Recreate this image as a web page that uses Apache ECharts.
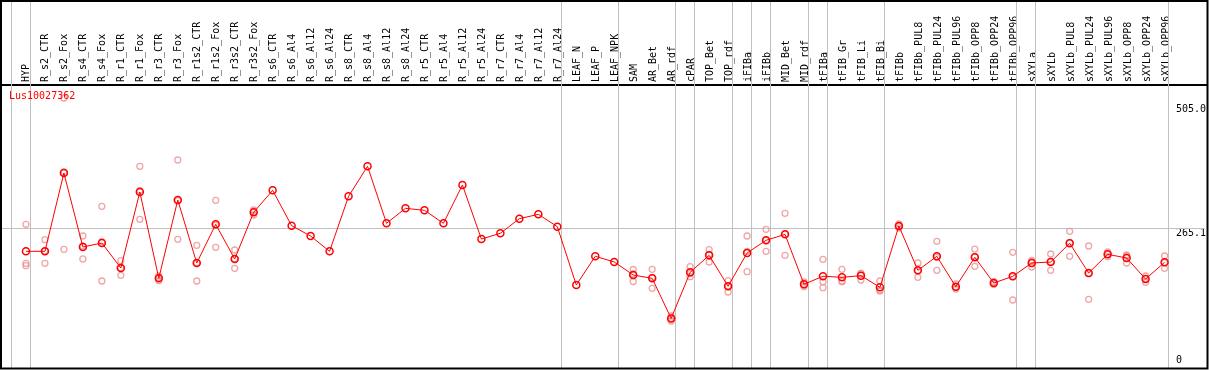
<!DOCTYPE html>
<html><head><meta charset="utf-8">
<script src="https://cdn.jsdelivr.net/npm/echarts@6/dist/echarts.min.js"></script>
<style>html,body{margin:0;padding:0;background:#fff}#c{width:1209px;height:370px}</style>
</head><body><div id="c"></div>
<script>
const categories = ['HYP','R_s2_CTR','R_s2_Fox','R_s4_CTR','R_s4_Fox','R_r1_CTR','R_r1_Fox','R_r3_CTR','R_r3_Fox','R_r1s2_CTR','R_r1s2_Fox','R_r3s2_CTR','R_r3s2_Fox','R_s6_CTR','R_s6_Al4','R_s6_Al12','R_s6_Al24','R_s8_CTR','R_s8_Al4','R_s8_Al12','R_s8_Al24','R_r5_CTR','R_r5_Al4','R_r5_Al12','R_r5_Al24','R_r7_CTR','R_r7_Al4','R_r7_Al12','R_r7_Al24','LEAF_N','LEAF_P','LEAF_NPK','SAM','AR_Bet','AR_rdf','cPAR','TOP_Bet','TOP_rdf','iFIBa','iFIBb','MID_Bet','MID_rdf','tFIBa','tFIB_Gr','tFIB_Li','tFIB_Bi','tFIBb','tFIBb_PUL8','tFIBb_PUL24','tFIBb_PUL96','tFIBb_OPP8','tFIBb_OPP24','tFIBb_OPP96','sXYLa','sXYLb','sXYLb_PUL8','sXYLb_PUL24','sXYLb_PUL96','sXYLb_OPP8','sXYLb_OPP24','sXYLb_OPP96'];

const means = [220.7,220.6,371.7,229,236.7,188.5,335.2,168.7,319.7,198.1,272.8,205.8,295.9,338.4,270.1,250.2,220.7,326.9,384.8,274.8,303.6,299.8,274.8,348.7,244.4,255.5,283.6,292.1,268.3,155.7,211.1,200.1,175,168.5,91.1,180.2,212.9,153.3,217.4,241.9,253.4,157,172.6,170.5,173.7,151.2,269.5,184,211,152.4,209.1,159.5,172.4,198.1,200,236.2,178.8,214.9,207.8,167.2,199.4];

const rep1 = [272.8,243.1,516.6,250.2,307.6,202.6,384.8,173,396.9,232.3,319.1,223.2,300.4,
  null,null,null,null,null,null,null,null,null,null,null,null,null,null,null,null,null,null,null,
  185.6,186,95.8,191,223.8,164,250.2,263.2,294,161.5,205.3,186,178.2,163.4,273.4,198.1,240,157.6,225.1,162,218.8,203.3,215.5,259.3,230.9,219.4,213.6,173,211.6];
const rep2 = [197.5,221.3,373.8,230.9,239.2,188.5,338.3,169.2,318.4,198.7,270.9,206.4,296.6,
  null,null,null,null,null,null,null,null,null,null,null,null,null,null,null,null,null,null,null,
  176.9,170.3,91.4,177.9,214.9,153.7,220.7,241.9,253.3,156.6,162,163.4,177.5,146,269.5,183.3,209.1,151.8,210.3,159.5,171.7,200.6,200.6,238.1,177.5,214.9,211.6,167.8,198.7];
const rep3 = [192.9,197.5,224.6,205.9,163.4,174.4,282.5,164,243.9,163.4,228.4,187.9,290.8,
  null,null,null,null,null,null,null,null,null,null,null,null,null,null,null,null,null,null,null,
  162.4,149.3,86.2,171.7,200.1,142.2,181.3,220.7,213,152.8,150.5,162,165.3,144.1,265.7,170.5,184,147.9,191.8,157,126.7,190.4,184,211.1,128.1,210.3,198.1,160.9,187.9];

// index of the last category of each group (vertical separators drawn after it)
const groupEnds = [-1,0,28,31,34,35,37,38,39,41,42,45,52,53,60];
const yTickValues = [0, 265.1, 505.0];
const yTickLabels = ['0', '265.1', '505.0'];
const gridValue = 265.1;
const chartTitle = 'Lus10027362';

// layout
const FONT = 'DejaVu Sans Mono';
const X0 = 26, DX = 19.01, GL = 1, GR = 1207, GT = 1, GB = 368, HEADER = 85, Y0PX = 365.65, YSCALE = 0.5181;
const xMin = (GL - X0) / DX, xMax = (GR - X0) / DX;
const yMax = (Y0PX - GT) / YSCALE, yMin = (Y0PX - GB) / YSCALE;
const SEP_OFF = 4 / DX;

const repData = [];
[rep1, rep2, rep3].forEach(r => r.forEach((v, i) => { if (v != null) repData.push([i, v]); }));

const chart = echarts.init(document.getElementById('c'), null, {renderer: 'canvas'});
chart.setOption({
  animation: false,
  backgroundColor: '#fff',
  title: {
    text: chartTitle, left: 9, top: 91, padding: 0,
    textStyle: {color: '#ff0000', fontFamily: FONT, fontSize: 10, fontWeight: 'normal'}
  },
  grid: [
    {left: GL, top: GT, width: GR - GL, height: GB - GT, containLabel: false},
    {left: GL, top: HEADER, width: GR - GL, height: GB - HEADER, containLabel: false}
  ],
  xAxis: [
    {type: 'value', gridIndex: 0, min: xMin, max: xMax, show: false},
    {type: 'value', gridIndex: 1, position: 'top', min: xMin, max: xMax,
     axisLine: {show: true, onZero: false, lineStyle: {color: '#000', width: 2}},
     axisTick: {show: false}, splitLine: {show: false},
     axisLabel: {customValues: categories.map((_, i) => i),
       formatter: v => categories[Math.round(v)] || '',
       rotate: -90, margin: 3, fontFamily: FONT, fontSize: 10, color: '#000'}}
  ],
  yAxis: [
    {type: 'value', gridIndex: 0, position: 'right', min: yMin, max: yMax,
     axisLine: {show: false, onZero: false}, axisTick: {show: false}, splitLine: {show: false},
     axisLabel: {customValues: yTickValues.slice(1), inside: true, align: 'left', verticalAlign: 'top',
       margin: 29, fontFamily: FONT, fontSize: 10, color: '#000',
       formatter: v => yTickLabels[yTickValues.indexOf(v)]}},
    {type: 'value', gridIndex: 0, position: 'right', min: yMin, max: yMax,
     axisLine: {show: false, onZero: false}, axisTick: {show: false}, splitLine: {show: false},
     axisLabel: {customValues: yTickValues.slice(0, 1), inside: true, align: 'left', verticalAlign: 'bottom',
       margin: 29, fontFamily: FONT, fontSize: 10, color: '#000',
       formatter: v => yTickLabels[yTickValues.indexOf(v)]}},
    {type: 'value', gridIndex: 1, min: 0, max: 1, show: false}
  ],
  series: [
    {type: 'scatter', xAxisIndex: 0, yAxisIndex: 0, data: repData, silent: true, z: 2,
     symbol: 'circle', symbolSize: 6,
     itemStyle: {color: 'rgba(0,0,0,0)', borderColor: '#ec9090', borderWidth: 1.3},
     markLine: {silent: true, z: 1, symbol: ['none', 'none'], label: {show: false},
       lineStyle: {color: '#c0c0c0', width: 1, type: 'solid'},
       data: [{yAxis: gridValue}].concat(groupEnds.map(i => ({xAxis: i + SEP_OFF})))}},
    {type: 'line', xAxisIndex: 0, yAxisIndex: 0, data: means.map((v, i) => [i, v]), silent: true, z: 3,
     symbol: 'circle', symbolSize: 7, showAllSymbol: true,
     lineStyle: {color: '#ff0000', width: 1},
     itemStyle: {color: 'rgba(0,0,0,0)', borderColor: '#ff0000', borderWidth: 1.5}}
  ],
  graphic: [
    {type: 'rect', z: 100, silent: true, shape: {x: 1, y: 1, width: 1206.5, height: 367.5},
     style: {fill: 'none', stroke: '#000', lineWidth: 2}}
  ]
});
</script></body></html>
